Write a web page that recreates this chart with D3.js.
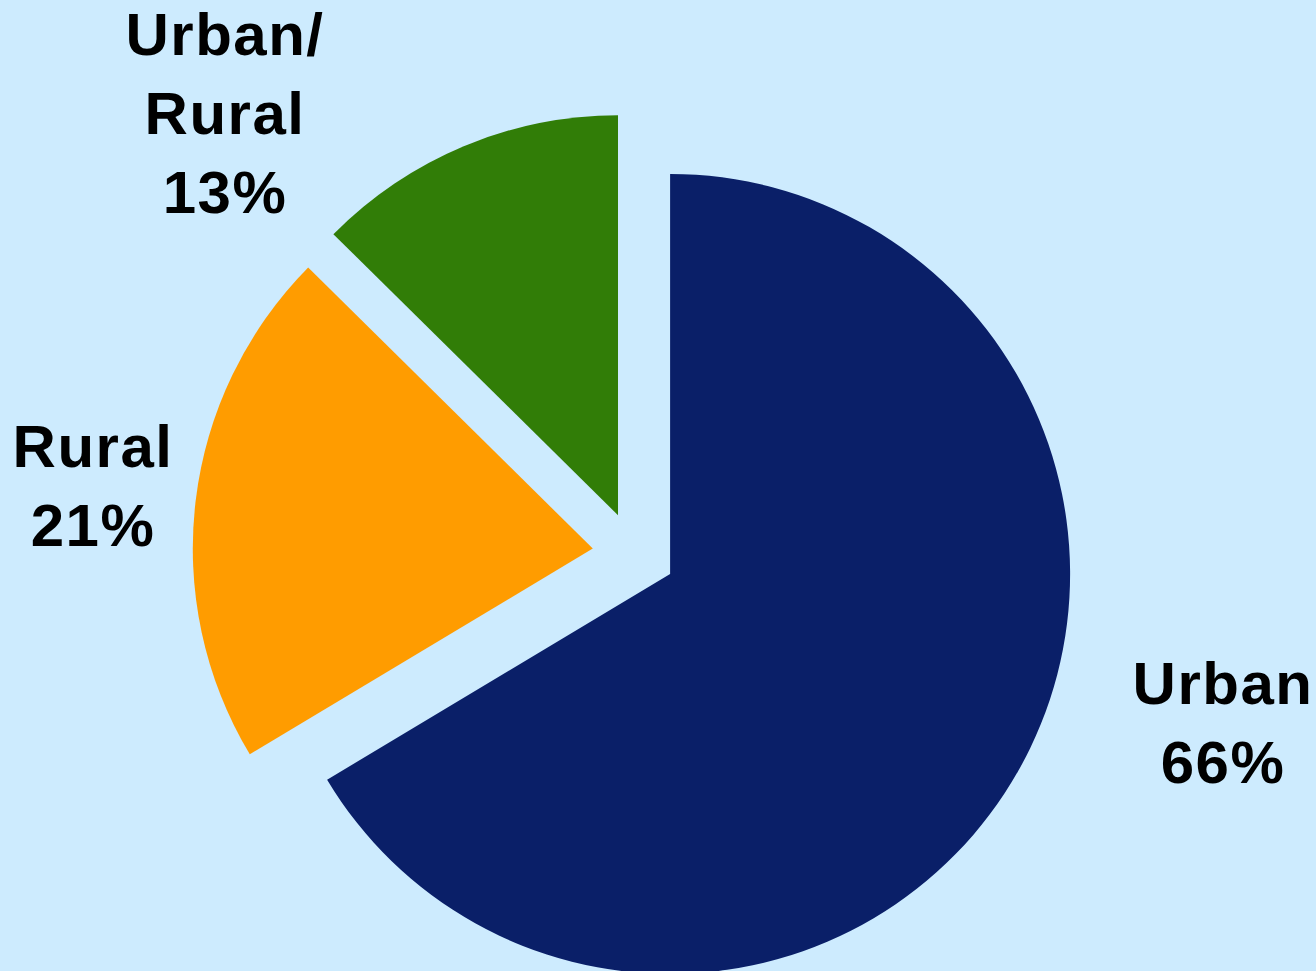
<!DOCTYPE html>
<html>
<head>
<meta charset="utf-8">
<script src="https://cdn.jsdelivr.net/npm/d3@7"></script>
<style>
  html, body { margin: 0; padding: 0; background: #cdebfe; }
  svg { display: block; }
</style>
</head>
<body>
<svg id="chart" width="1316" height="971"></svg>
<script>
const categories = ["Urban", "Rural", "Urban/Rural"];
const values = [66.4, 21.0, 12.6];
const labelLines = [["Urban", "66%"], ["Rural", "21%"], ["Urban/", "Rural", "13%"]];
const colors = ["#0a1f68", "#ff9c00", "#317d07"];

const W = 1316, H = 971;
const cx = 634, cy = 553.5, R = 400, explode = 41.5;
const labelPos = [[1223, 704], [93, 467], [225, 55]];
const lineH = 79;

const svg = d3.select("#chart");
svg.append("rect").attr("width", W).attr("height", H).attr("fill", "#cdebfe");

const data = categories.map((c, i) => ({ name: c, value: values[i], color: colors[i], lines: labelLines[i], pos: labelPos[i] }));

const pie = d3.pie().sort(null).value(d => d.value).startAngle(0);
const arc = d3.arc().innerRadius(0).outerRadius(R);

const g = svg.append("g").attr("transform", `translate(${cx},${cy})`);

g.selectAll("path")
  .data(pie(data))
  .join("path")
  .attr("d", arc)
  .attr("fill", d => d.data.color)
  .attr("transform", d => {
    const mid = (d.startAngle + d.endAngle) / 2;
    return `translate(${explode * Math.sin(mid)},${-explode * Math.cos(mid)})`;
  });

const labels = svg.append("g")
  .attr("font-family", "'Liberation Sans', Arial, Helvetica, sans-serif")
  .attr("font-weight", "bold")
  .attr("font-size", 60)
  .attr("letter-spacing", 1.5)
  .attr("fill", "#000")
  .attr("text-anchor", "middle");

data.forEach(d => {
  const t = labels.append("text");
  d.lines.forEach((ln, j) => {
    t.append("tspan").attr("x", d.pos[0]).attr("y", d.pos[1] + j * lineH).text(ln);
  });
});
</script>
</body>
</html>
